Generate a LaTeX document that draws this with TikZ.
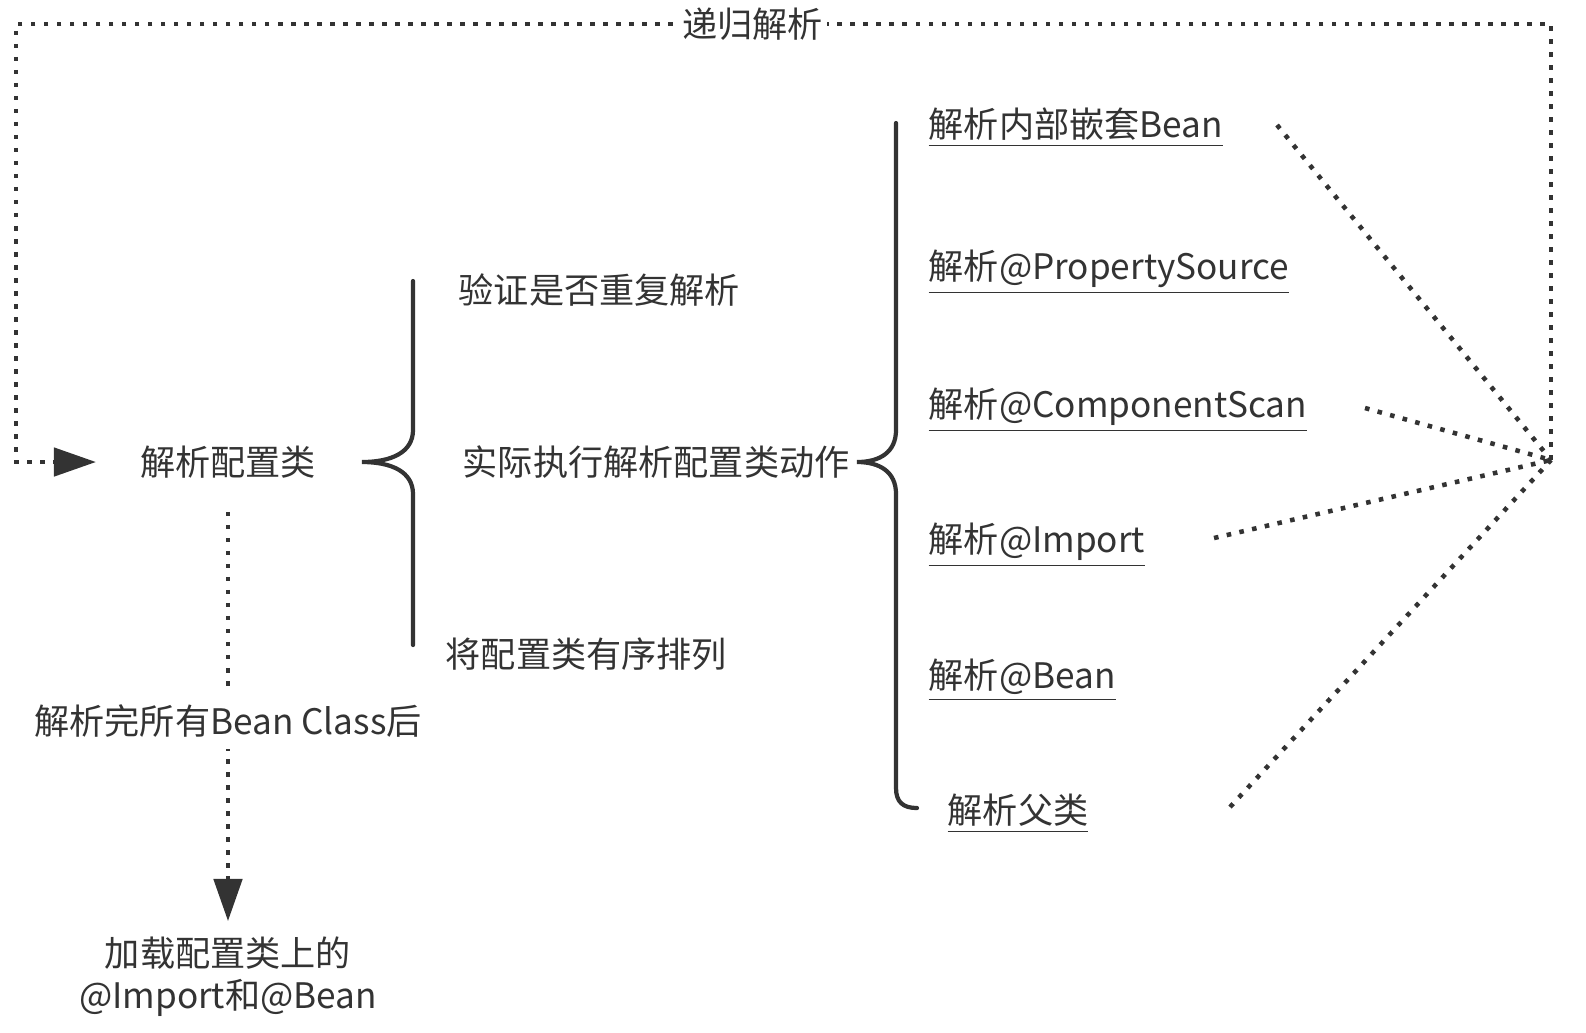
\documentclass[tikz,border=0pt]{standalone}
\usepackage{fontspec}
\setmainfont{Noto Sans CJK SC}
\usetikzlibrary{arrows.meta}
\definecolor{ink}{HTML}{333333}

\begin{document}
\begin{tikzpicture}[x=0.01cm,y=-0.01cm,
	every node/.style={text=ink,font=\fontsize{10pt}{12pt}\selectfont},
	lefttext/.style={anchor=west,inner sep=0pt},
	dotline/.style={draw=ink,line width=1.3pt,dash pattern=on 1.3pt off 2.4pt},
	bracepath/.style={draw=ink,line width=1.2pt,line cap=round},
	bigtip/.style={-{Triangle[length=12pt,width=8pt]}}]
				\useasboundingbox (0,0) rectangle (1586,1032);
				%Nodes
				\node 		 (cfg) at (228,462) {解析配置类};
				\node[lefttext]  (check) at (458,290) {验证是否重复解析};
				\node[lefttext]  (run) at (462,462) {实际执行解析配置类动作};
				\node[lefttext]  (sort) at (445,654) {将配置类有序排列};
				\node[lefttext]  (nested) at (928,128) {\underline{解析内部嵌套Bean}};
				\node[lefttext]  (propsrc) at (928,272) {\underline{解析@PropertySource}};
				\node[lefttext]  (compscan) at (928,410) {\underline{解析@ComponentScan}};
				\node[lefttext]  (import) at (928,545) {\underline{解析@Import}};
				\node[lefttext]  (beanm) at (928,680) {\underline{解析@Bean}};
				\node[lefttext]  (parent) at (947,814) {\underline{解析父类}};
				\node[align=center] (load) at (228,977) {加载配置类上的\\@Import和@Bean};
				\coordinate      (hub) 	at 	(1551,460);
				\coordinate      (cornerR) 	at 	(1551,24);
				\coordinate      (cornerL) 	at 	(16,24);
				\coordinate      (s1) 	at 	(1277,125);
				\coordinate      (s3) 	at 	(1365,408);
				\coordinate      (s4) 	at 	(1214,538);
				\coordinate      (s6) 	at 	(1230,807);

				%Braces
				\draw[bracepath] (413,281) -- (413,430) .. controls (413,452) and (392,462) .. (362,462) .. controls (392,462) and (413,472) .. (413,494) -- (413,645);
				\draw[bracepath] (896,123) -- (896,430) .. controls (896,452) and (880,462) .. (857,462) .. controls (880,462) and (896,472) .. (896,494) -- (896,788) .. controls (896,802) and (903,808) .. (917,808);

				%Lines
				\draw[dotline] (s1) -- (hub);
				\draw[dotline] (s3) -- (hub);
				\draw[dotline] (s4) -- (hub);
				\draw[dotline] (s6) -- (hub);
				\draw[dotline,bigtip,shorten >=9pt] (hub) -- (cornerR) -- node[pos=0.52,fill=white,inner sep=1pt] (recur) {递归解析} (cornerL) |- (cfg);
				\draw[dotline,bigtip,shorten <=6pt,shorten >=1pt] (cfg) -- node[pos=0.53,fill=white] (after) {解析完所有Bean Class后} (load);

		\end{tikzpicture}
\end{document}
